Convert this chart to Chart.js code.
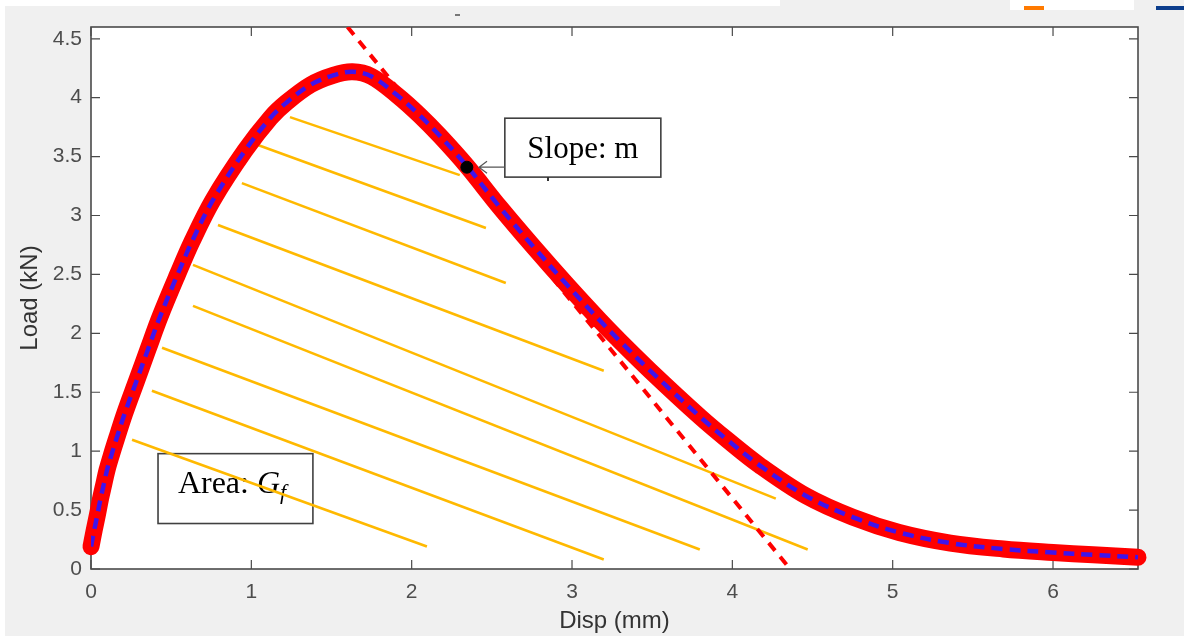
<!DOCTYPE html>
<html>
<head>
<meta charset="utf-8">
<title>Load vs Disp</title>
<script src="https://cdn.jsdelivr.net/npm/chart.js@4.4.0/dist/chart.umd.min.js"></script>
<style>
  html, body { margin: 0; padding: 0; background: #f0f0f0; }
  #wrap { position: relative; width: 1184px; height: 636px; overflow: hidden; }
  canvas { display: block; }
  .bit { position: absolute; }
</style>
</head>
<body>
<div id="wrap">
  <canvas id="loadChart" width="1184" height="636"></canvas>
  <!-- leftovers of the cropped screenshot -->
  <div class="bit" style="left:0;top:0;width:780px;height:6px;background:#fff"></div>
  <div class="bit" style="left:0;top:0;width:5px;height:636px;background:#fff"></div>
  <div class="bit" style="left:1010px;top:0;width:124px;height:10px;background:#fff"></div>
  <div class="bit" style="left:1024px;top:6px;width:20px;height:4px;background:#ff7a00"></div>
  <div class="bit" style="left:1156px;top:6px;width:28px;height:4px;background:#0b3d8c"></div>
  <div class="bit" style="left:455px;top:14px;width:5px;height:2px;background:#777"></div>
  <div class="bit" style="left:547px;top:177px;width:2px;height:4px;background:#333"></div>
</div>
<script>
'use strict';

// measured load-displacement curve
var disp = [0, 0.02, 0.04, 0.06, 0.08, 0.10, 0.13, 0.16, 0.21, 0.285, 0.357, 0.43, 0.54, 0.63, 0.76,
  0.96, 1.12, 1.22, 1.37, 1.51, 1.63, 1.75, 1.91, 2.05, 2.18, 2.344, 2.55, 2.756, 2.97, 3.173, 3.28,
  3.49, 3.80, 3.965, 4.17, 4.46, 4.75, 5.04, 5.36, 5.69, 6.0, 6.25, 6.53];
var load = [0.19, 0.33, 0.46, 0.60, 0.72, 0.84, 0.98, 1.11, 1.32, 1.60, 1.87, 2.14, 2.50, 2.78, 3.13,
  3.55, 3.83, 3.96, 4.11, 4.19, 4.22, 4.18, 4.02, 3.85, 3.67, 3.42, 3.07, 2.74, 2.41, 2.11, 1.96,
  1.68, 1.29, 1.10, 0.88, 0.62, 0.44, 0.31, 0.22, 0.17, 0.14, 0.12, 0.10];

// tangent (slope m) line
var tangentX = [1.6, 4.36];
var tangentY = [4.6, 0];

// point where the slope is taken
var markX = [2.344];
var markY = [3.41];

// hatch lines for the area Gf
var hatchX1 = [1.241, 1.041, 0.941, 0.792, 0.636, 0.636, 0.443, 0.380, 0.256];
var hatchY1 = [3.835, 3.598, 3.275, 2.919, 2.581, 2.233, 1.877, 1.513, 1.097];
var hatchX2 = [2.300, 2.463, 2.587, 3.198, 4.271, 4.470, 3.797, 3.198, 2.095];
var hatchY2 = [3.343, 2.894, 2.428, 1.682, 0.597, 0.165, 0.165, 0.081, 0.191];

var xTickLabels = ['0', '1', '2', '3', '4', '5', '6'];
var yTickLabels = ['0', '0.5', '1', '1.5', '2', '2.5', '3', '3.5', '4', '4.5'];

// annotation placement (data units)
var slopeNote = { x1: 2.581, x2: 3.554, y1: 3.826, y2: 3.326, textY: 3.487, arrowTip: 2.42, arrowY: 3.41 };
var areaNote = { x1: 0.418, x2: 1.384, y1: 0.979, y2: 0.386, textX: 0.542, textY: 0.645 };

function pts(xs, ys) {
  return xs.map(function(x, i) { return { x: x, y: ys[i] }; });
}

var datasets = [];

datasets.push({
  label: 'mark', data: pts(markX, markY), showLine: false,
  pointRadius: 6, pointBackgroundColor: '#000', pointBorderColor: '#000', order: -1
});
datasets.push({
  label: 'fit', data: pts(disp, load), borderColor: 'rgb(64,20,235)', borderWidth: 4.5,
  borderDash: [11, 7], pointRadius: 0, tension: 0.35, order: 0
});
datasets.push({
  label: 'test', data: pts(disp, load), borderColor: '#ff0000', borderWidth: 17,
  borderCapStyle: 'round', borderJoinStyle: 'round', pointRadius: 0,
  tension: 0.35, clip: 10, order: 1
});
datasets.push({
  label: 'tangent', data: pts(tangentX, tangentY), borderColor: '#ff0000', borderWidth: 4,
  borderDash: [10, 8], pointRadius: 0, clip: 0, order: 2
});
hatchX1.forEach(function(x, i) {
  datasets.push({
    label: 'hatch' + i,
    data: [{ x: hatchX1[i], y: hatchY1[i] }, { x: hatchX2[i], y: hatchY2[i] }],
    borderColor: '#ffb900', borderWidth: 2.6, pointRadius: 0, order: 3
  });
});

function drawNoteBox(ctx, xs, ys, n) {
  var l = xs.getPixelForValue(n.x1), r = xs.getPixelForValue(n.x2);
  var t = ys.getPixelForValue(n.y1), b = ys.getPixelForValue(n.y2);
  ctx.fillStyle = '#fff';
  ctx.fillRect(l, t, r - l, b - t);
  ctx.strokeStyle = '#404040';
  ctx.lineWidth = 1.6;
  ctx.strokeRect(l, t, r - l, b - t);
  return { l: l, r: r, t: t, b: b };
}

var decor = {
  id: 'decor',
  beforeDraw: function(chart) {
    var ctx = chart.ctx, a = chart.chartArea;
    ctx.save();
    ctx.fillStyle = '#f0f0f0';
    ctx.fillRect(0, 0, chart.width, chart.height);
    ctx.fillStyle = '#fff';
    ctx.fillRect(a.left, a.top, a.right - a.left, a.bottom - a.top);
    ctx.restore();
  },
  beforeDatasetsDraw: function(chart) {
    var ctx = chart.ctx, a = chart.chartArea;
    var xs = chart.scales.x, ys = chart.scales.y;
    ctx.save();
    // axes box with inward ticks
    ctx.strokeStyle = '#4a4a4a';
    ctx.lineWidth = 1.6;
    ctx.strokeRect(a.left, a.top, a.right - a.left, a.bottom - a.top);
    ctx.lineWidth = 1.2;
    ctx.beginPath();
    xs.ticks.forEach(function(t) {
      var px = xs.getPixelForValue(t.value);
      ctx.moveTo(px, a.bottom); ctx.lineTo(px, a.bottom - 9);
      ctx.moveTo(px, a.top); ctx.lineTo(px, a.top + 9);
    });
    ys.ticks.forEach(function(t) {
      var py = ys.getPixelForValue(t.value);
      ctx.moveTo(a.left, py); ctx.lineTo(a.left + 9, py);
      ctx.moveTo(a.right, py); ctx.lineTo(a.right - 9, py);
    });
    ctx.stroke();

    // Area: Gf box (hatch lines are drawn over it)
    drawNoteBox(ctx, xs, ys, areaNote);
    var tx = xs.getPixelForValue(areaNote.textX), ty = ys.getPixelForValue(areaNote.textY);
    ctx.fillStyle = '#000';
    ctx.textBaseline = 'alphabetic';
    ctx.textAlign = 'left';
    ctx.font = '32px "Liberation Serif", "Times New Roman", serif';
    ctx.fillText('Area: ', tx, ty);
    tx += ctx.measureText('Area: ').width;
    ctx.font = 'italic 32px "Liberation Serif", "Times New Roman", serif';
    ctx.fillText('G', tx, ty);
    tx += ctx.measureText('G').width;
    ctx.font = 'italic 22px "Liberation Serif", "Times New Roman", serif';
    ctx.fillText('f', tx, ty + 6);
    ctx.restore();
  },
  afterDatasetsDraw: function(chart) {
    var ctx = chart.ctx;
    var xs = chart.scales.x, ys = chart.scales.y;
    ctx.save();
    var box = drawNoteBox(ctx, xs, ys, slopeNote);
    ctx.fillStyle = '#000';
    ctx.textAlign = 'center';
    ctx.textBaseline = 'alphabetic';
    ctx.font = '31px "Liberation Serif", "Times New Roman", serif';
    ctx.fillText('Slope: m', (box.l + box.r) / 2, ys.getPixelForValue(slopeNote.textY));
    // arrow to the point
    var tip = xs.getPixelForValue(slopeNote.arrowTip), ay = ys.getPixelForValue(slopeNote.arrowY);
    ctx.strokeStyle = '#555';
    ctx.lineWidth = 1.2;
    ctx.beginPath();
    ctx.moveTo(box.l, ay); ctx.lineTo(tip, ay);
    ctx.moveTo(tip + 8, ay - 6); ctx.lineTo(tip, ay); ctx.lineTo(tip + 8, ay + 6);
    ctx.stroke();
    ctx.restore();
  }
};

var tickFont = { family: '"Liberation Sans", Arial, sans-serif', size: 21 };
var titleFont = { family: '"Liberation Sans", Arial, sans-serif', size: 24 };

new Chart(document.getElementById('loadChart'), {
  type: 'line',
  data: { datasets: datasets },
  options: {
    responsive: false,
    animation: false,
    events: [],
    layout: { padding: { top: 27, right: 46, left: 0, bottom: 0 } },
    plugins: { legend: { display: false }, tooltip: { enabled: false } },
    scales: {
      x: {
        type: 'linear', min: 0, max: 6.53,
        grid: { display: false, drawTicks: false },
        border: { display: false },
        ticks: {
          stepSize: 1, includeBounds: false, color: '#4d4d4d', font: tickFont, padding: 11,
          maxRotation: 0,
          callback: function(v) { return xTickLabels[Math.round(v)]; }
        },
        title: { display: true, text: 'Disp (mm)', color: '#333', font: titleFont, padding: { top: 2, bottom: 0 } },
        afterFit: function(scale) { scale.height = 67; }
      },
      y: {
        type: 'linear', min: 0, max: 4.6,
        grid: { display: false, drawTicks: false },
        border: { display: false },
        ticks: {
          stepSize: 0.5, includeBounds: false, color: '#4d4d4d', font: tickFont, padding: 9,
          callback: function(v) { return yTickLabels[Math.round(v * 2)]; }
        },
        title: { display: true, text: 'Load (kN)', color: '#333', font: titleFont, padding: { top: 16, bottom: 0 } },
        afterFit: function(scale) { scale.width = 91; }
      }
    }
  },
  plugins: [decor]
});
</script>
</body>
</html>
